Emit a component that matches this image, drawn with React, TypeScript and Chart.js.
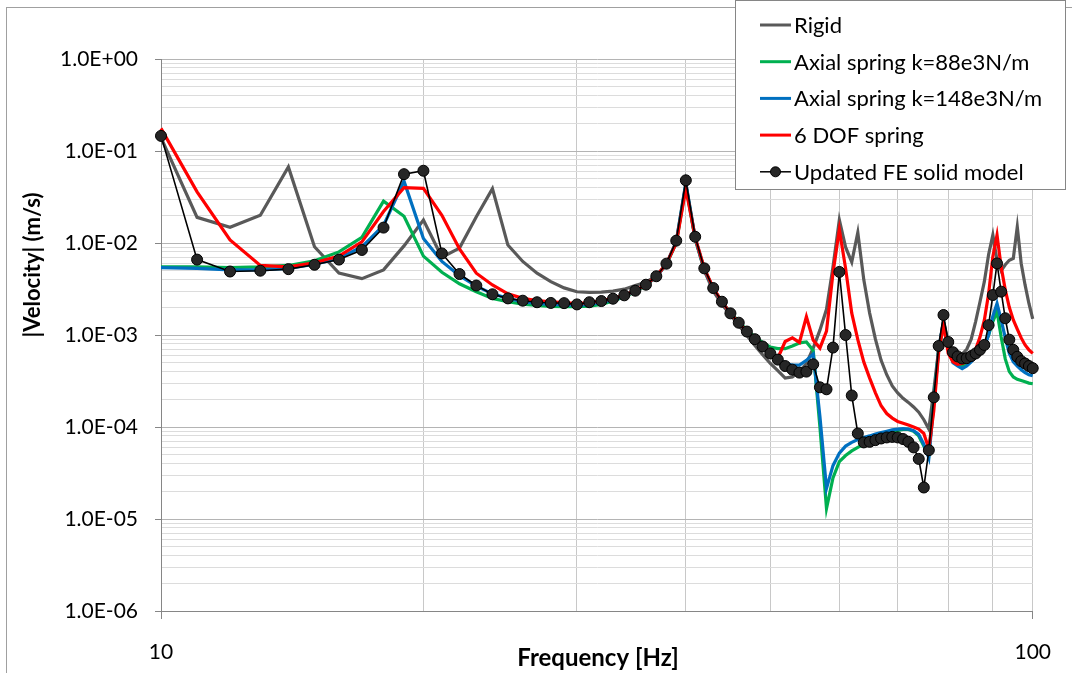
import React, { useEffect, useRef } from "react";
import { Chart, registerables } from "chart.js";

Chart.register(...registerables);

// Frequency axis [Hz]
const FREQ = [
  10, 11, 12, 13, 14, 15, 16, 17, 18, 19, 20, 21, 22, 23, 24, 25, 26, 27, 28, 29,
  30, 31, 32, 33, 34, 35, 36, 37, 38, 39, 40, 41, 42, 43, 44, 45, 46, 47, 48, 49,
  50, 51, 52, 53, 54, 55, 56, 57, 58, 59, 60, 61, 62, 63, 64, 65, 66, 67, 68, 69,
  70, 71, 72, 73, 74, 75, 76, 77, 78, 79, 80, 81, 82, 83, 84, 85, 86, 87, 88, 89,
  90, 91, 92, 93, 94, 95, 96, 97, 98, 99, 100,
];

const RIGID = [
  0.14, 1.9e-2, 1.48e-2, 2.0e-2, 6.7e-2, 9.1e-3, 4.7e-3, 4.1e-3, 5.1e-3, 9.3e-3,
  1.78e-2, 7.0e-3, 8.8e-3, 1.93e-2, 3.9e-2, 9.5e-3, 6.3e-3, 4.7e-3, 3.8e-3, 3.25e-3,
  2.95e-3, 2.9e-3, 2.92e-3, 3.0e-3, 3.15e-3, 3.45e-3, 3.75e-3, 4.4e-3, 5.9e-3, 1.03e-2,
  4.5e-2, 1.12e-2, 5.0e-3, 3.0e-3, 2.15e-3, 1.65e-3, 1.28e-3, 9.9e-4, 7.7e-4, 6.1e-4,
  4.9e-4, 4.1e-4, 3.4e-4, 3.5e-4, 4.0e-4, 4.9e-4, 7.2e-4, 1.13e-3, 1.9e-3, 5.5e-3,
  1.78e-2, 9.0e-3, 6.2e-3, 1.3e-2, 4.0e-3, 1.73e-3, 9.0e-4, 5.3e-4, 3.7e-4, 2.8e-4,
  2.35e-4, 2.05e-4, 1.85e-4, 1.65e-4, 1.45e-4, 1.2e-4, 9.5e-5, 2.5e-4, 7.0e-4, 1.4e-3,
  8.5e-4, 6.5e-4, 6.0e-4, 6.2e-4, 7.0e-4, 9.0e-4, 1.4e-3, 2.3e-3, 3.8e-3, 7.5e-3,
  1.22e-2, 6.5e-3, 5.0e-3, 5.8e-3, 6.5e-3, 6.8e-3, 1.5e-2, 6.0e-3, 3.5e-3, 2.2e-3,
  1.5e-3,
];

const AXIAL_88 = [
  5.5e-3, 5.5e-3, 5.4e-3, 5.5e-3, 5.7e-3, 6.4e-3, 8.0e-3, 1.15e-2, 2.85e-2, 1.95e-2,
  7.2e-3, 4.8e-3, 3.6e-3, 2.95e-3, 2.5e-3, 2.3e-3, 2.17e-3, 2.1e-3, 2.05e-3, 2.03e-3,
  2.03e-3, 2.06e-3, 2.15e-3, 2.35e-3, 2.6e-3, 2.95e-3, 3.45e-3, 4.3e-3, 5.9e-3, 1.0e-2,
  4.2e-2, 1.1e-2, 5.2e-3, 3.2e-3, 2.3e-3, 1.75e-3, 1.4e-3, 1.13e-3, 9.6e-4, 8.3e-4,
  7.4e-4, 7.1e-4, 7.1e-4, 7.6e-4, 8.2e-4, 8.4e-4, 6.8e-4, 1.0e-4, 1.3e-5, 2.8e-5,
  4.2e-5, 4.9e-5, 5.5e-5, 6.0e-5, 6.5e-5, 7.0e-5, 7.5e-5, 8.0e-5, 8.4e-5, 8.8e-5,
  9.2e-5, 9.4e-5, 9.4e-5, 9.0e-5, 8.0e-5, 6.2e-5, 5.0e-5, 1.9e-4, 7.0e-4, 1.3e-3,
  7.5e-4, 5.3e-4, 4.8e-4, 4.6e-4, 4.8e-4, 5.3e-4, 6.0e-4, 6.8e-4, 7.8e-4, 1.0e-3,
  1.4e-3, 1.8e-3, 9.5e-4, 5.5e-4, 4.0e-4, 3.5e-4, 3.3e-4, 3.2e-4, 3.1e-4, 3.0e-4,
  2.95e-4,
];

const AXIAL_148 = [
  5.4e-3, 5.3e-3, 5.1e-3, 5.1e-3, 5.3e-3, 5.9e-3, 6.8e-3, 9.1e-3, 1.55e-2, 4.7e-2,
  1.12e-2, 6.3e-3, 4.4e-3, 3.4e-3, 2.8e-3, 2.5e-3, 2.3e-3, 2.2e-3, 2.15e-3, 2.12e-3,
  2.1e-3, 2.15e-3, 2.25e-3, 2.42e-3, 2.65e-3, 3.0e-3, 3.5e-3, 4.3e-3, 5.9e-3, 1.03e-2,
  4.4e-2, 1.13e-2, 5.2e-3, 3.2e-3, 2.3e-3, 1.72e-3, 1.36e-3, 1.09e-3, 9.0e-4, 7.4e-4,
  6.2e-4, 5.5e-4, 4.9e-4, 4.7e-4, 4.7e-4, 5.3e-4, 6.2e-4, 1.3e-4, 2.15e-5, 3.8e-5,
  5.2e-5, 6.2e-5, 6.8e-5, 7.3e-5, 7.7e-5, 8.0e-5, 8.4e-5, 8.7e-5, 9.0e-5, 9.3e-5,
  9.5e-5, 9.6e-5, 9.5e-5, 9.1e-5, 8.3e-5, 6.5e-5, 4.6e-5, 1.8e-4, 7.0e-4, 1.4e-3,
  7.2e-4, 5.0e-4, 4.6e-4, 4.3e-4, 4.6e-4, 5.1e-4, 5.8e-4, 6.5e-4, 7.4e-4, 1.0e-3,
  1.6e-3, 2.2e-3, 1.46e-3, 9.3e-4, 6.3e-4, 5.1e-4, 4.6e-4, 4.2e-4, 3.9e-4, 3.7e-4,
  3.6e-4,
];

const DOF6 = [
  0.176, 3.6e-2, 1.08e-2, 5.7e-3, 5.5e-3, 6.1e-3, 7.2e-3, 1.03e-2, 2.2e-2, 4.0e-2,
  3.93e-2, 2.0e-2, 8.6e-3, 4.7e-3, 3.5e-3, 2.8e-3, 2.5e-3, 2.36e-3, 2.3e-3, 2.25e-3,
  2.2e-3, 2.25e-3, 2.35e-3, 2.5e-3, 2.7e-3, 3.03e-3, 3.52e-3, 4.35e-3, 5.96e-3, 1.0e-2,
  3.9e-2, 1.15e-2, 5.3e-3, 3.24e-3, 2.3e-3, 1.72e-3, 1.36e-3, 1.09e-3, 9.0e-4, 7.5e-4,
  6.3e-4, 5.6e-4, 8.5e-4, 9.3e-4, 8.3e-4, 1.58e-3, 8.8e-4, 7.2e-4, 1.1e-3, 4.7e-3,
  1.4e-2, 5.3e-3, 1.73e-3, 8.9e-4, 5.1e-4, 3.4e-4, 2.35e-4, 1.7e-4, 1.4e-4, 1.25e-4,
  1.15e-4, 1.1e-4, 1.05e-4, 1.0e-4, 9.5e-5, 8.5e-5, 5.8e-5, 1.5e-4, 6.5e-4, 1.3e-3,
  6.3e-4, 5.1e-4, 4.8e-4, 4.9e-4, 5.1e-4, 5.8e-4, 7.0e-4, 9.5e-4, 1.45e-3, 2.8e-3,
  7.1e-3, 1.22e-2, 5.5e-3, 3.1e-3, 2.0e-3, 1.46e-3, 1.16e-3, 9.3e-4, 7.8e-4, 6.9e-4,
  6.3e-4,
];

const FE_UPDATED = [
  0.146, 6.6e-3, 4.9e-3, 5.0e-3, 5.2e-3, 5.8e-3, 6.6e-3, 8.4e-3, 1.47e-2, 5.6e-2,
  6.1e-2, 7.7e-3, 4.6e-3, 3.45e-3, 2.77e-3, 2.5e-3, 2.36e-3, 2.27e-3, 2.23e-3, 2.22e-3,
  2.15e-3, 2.27e-3, 2.34e-3, 2.48e-3, 2.7e-3, 3.03e-3, 3.52e-3, 4.35e-3, 5.96e-3, 1.06e-2,
  4.8e-2, 1.17e-2, 5.3e-3, 3.24e-3, 2.3e-3, 1.72e-3, 1.36e-3, 1.09e-3, 9.0e-4, 7.5e-4,
  6.3e-4, 5.4e-4, 4.6e-4, 4.2e-4, 3.9e-4, 4.0e-4, 4.8e-4, 2.7e-4, 2.57e-4, 7.3e-4,
  4.85e-3, 1.0e-3, 2.2e-4, 8.5e-5, 6.8e-5, 6.9e-5, 7.2e-5, 7.5e-5, 7.7e-5, 7.8e-5,
  7.7e-5, 7.4e-5, 6.9e-5, 6.0e-5, 4.5e-5, 2.2e-5, 5.6e-5, 2.1e-4, 7.6e-4, 1.65e-3,
  8.4e-4, 6.5e-4, 5.85e-4, 5.55e-4, 5.6e-4, 5.9e-4, 6.3e-4, 6.9e-4, 7.8e-4, 1.28e-3,
  2.72e-3, 6.0e-3, 2.96e-3, 1.52e-3, 8.9e-4, 6.9e-4, 5.8e-4, 5.2e-4, 4.9e-4, 4.6e-4,
  4.36e-4,
];

const SERIES_NAMES = [
  "Rigid",
  "Axial spring k=88e3N/m",
  "Axial spring k=148e3N/m",
  "6 DOF spring",
  "Updated FE solid model",
];
const SERIES_COLORS = ["#595959", "#00B050", "#0070C0", "#FF0000", "#000000"];

// Tick definitions
const X_TICKS = [10, 20, 30, 40, 50, 60, 70, 80, 90, 100];
const X_LABELED = [10, 100];
const Y_DECADES = [1e-6, 1e-5, 1e-4, 1e-3, 1e-2, 1e-1, 1];
const Y_MINOR_MULT = [2, 3, 4, 5, 6, 7, 8, 9];

const FONT = "Lato, 'Liberation Sans', sans-serif";

function isDecade(v: number) {
  const l = Math.log10(v);
  return Math.abs(l - Math.round(l)) < 1e-9;
}
function fmtExp(v: number) {
  const e = Math.round(Math.log10(v));
  const sign = e < 0 ? "-" : "+";
  return `1.0E${sign}${String(Math.abs(e)).padStart(2, "0")}`;
}

const overlayPlugin = {
  id: "overlay",
  beforeDraw(chart: any) {
    const ctx = chart.ctx;
    ctx.save();
    ctx.fillStyle = "#ffffff";
    ctx.fillRect(0, 0, chart.width, chart.height);
    ctx.strokeStyle = "#a0a0a0";
    ctx.lineWidth = 1;
    ctx.strokeRect(6.5, 7.5, 1200, 800);
    ctx.restore();
  },
  afterDraw(chart: any) {
    const ctx = chart.ctx;
    ctx.save();
    // axis titles
    ctx.fillStyle = "#000";
    ctx.textAlign = "center";
    ctx.textBaseline = "middle";
    ctx.font = `bold 24px ${FONT}`;
    ctx.fillText("Frequency [Hz]", 598, 658);
    ctx.save();
    ctx.font = `bold 22px ${FONT}`;
    ctx.translate(33, 265);
    ctx.rotate(-Math.PI / 2);
    ctx.fillText("|Velocity| (m/s)", 0, 0);
    ctx.restore();

    // legend
    ctx.fillStyle = "#fff";
    ctx.fillRect(735, 0, 331, 189);
    ctx.strokeStyle = "#868686";
    ctx.lineWidth = 1;
    ctx.strokeRect(735.5, 0.5, 330, 189);
    ctx.font = `22px ${FONT}`;
    ctx.textAlign = "left";
    ctx.textBaseline = "middle";
    SERIES_NAMES.forEach((name, i) => {
      const y = 25 + i * 36.7;
      ctx.strokeStyle = SERIES_COLORS[i];
      ctx.lineWidth = i === 4 ? 1.5 : 3;
      ctx.beginPath();
      ctx.moveTo(760, y);
      ctx.lineTo(791, y);
      ctx.stroke();
      if (i === 4) {
        ctx.beginPath();
        ctx.arc(775.5, y, 5, 0, Math.PI * 2);
        ctx.fillStyle = "#262626";
        ctx.fill();
        ctx.lineWidth = 1;
        ctx.strokeStyle = "#000";
        ctx.stroke();
      }
      ctx.fillStyle = "#000";
      ctx.fillText(name, 794, y + 1);
    });
    ctx.restore();
  },
};

export default function App() {
  const canvasRef = useRef<HTMLCanvasElement | null>(null);

  useEffect(() => {
    if (!canvasRef.current) return;
    const seriesValues = [RIGID, AXIAL_88, AXIAL_148, DOF6, FE_UPDATED];
    const datasets = seriesValues.map((vals, i) => {
      const isFE = i === 4;
      return {
        label: SERIES_NAMES[i],
        data: FREQ.map((f, k) => ({ x: f, y: vals[k] })),
        borderColor: SERIES_COLORS[i],
        backgroundColor: SERIES_COLORS[i],
        borderWidth: isFE ? 1.6 : 3.2,
        pointRadius: isFE ? 5.5 : 0,
        pointBackgroundColor: "#262626",
        pointBorderColor: "#000",
        pointBorderWidth: 1,
        tension: 0,
        fill: false,
        order: 5 - i,
        clip: false as any,
      };
    });

    const yTickValues: number[] = [];
    Y_DECADES.forEach((d, i) => {
      yTickValues.push(d);
      if (i < Y_DECADES.length - 1) Y_MINOR_MULT.forEach((m) => yTickValues.push(m * d));
    });

    const chart = new Chart(canvasRef.current, {
      type: "line",
      data: { datasets: datasets as any },
      options: {
        animation: false,
        responsive: false,
        maintainAspectRatio: false,
        layout: { padding: { left: 0, top: 59, right: 37, bottom: 0 } },
        plugins: {
          legend: { display: false },
          tooltip: { enabled: false },
          title: { display: false },
        },
        scales: {
          x: {
            type: "logarithmic",
            min: 10,
            max: 100,
            afterBuildTicks: (axis: any) => {
              axis.ticks = X_TICKS.map((v) => ({ value: v, major: X_LABELED.includes(v) }));
            },
            afterFit: (axis: any) => {
              axis.height = 62;
            },
            border: { display: true, color: "#868686", width: 1 },
            grid: {
              display: true,
              drawOnChartArea: true,
              drawTicks: true,
              tickLength: 8,
              color: "#c8c8c8",
              lineWidth: 1,
              tickColor: (ctx: any) =>
                ctx.tick && X_LABELED.includes(ctx.tick.value) ? "#868686" : "rgba(0,0,0,0)",
            },
            ticks: {
              autoSkip: false,
              maxRotation: 0,
              minRotation: 0,
              padding: 21,
              color: "#000",
              font: { family: FONT, size: 21 },
              callback: (v: any) => (X_LABELED.includes(Number(v)) ? String(v) : ""),
            },
          },
          y: {
            type: "logarithmic",
            min: 1e-6,
            max: 1,
            afterBuildTicks: (axis: any) => {
              axis.ticks = yTickValues.map((v) => ({ value: v, major: isDecade(v) }));
            },
            afterFit: (axis: any) => {
              axis.width = 161;
            },
            border: { display: true, color: "#868686", width: 1 },
            grid: {
              display: true,
              drawOnChartArea: true,
              drawTicks: true,
              tickLength: 6,
              lineWidth: 1,
              color: (ctx: any) => (ctx.tick && isDecade(ctx.tick.value) ? "#b4b4b4" : "#dcdcdc"),
              tickColor: (ctx: any) =>
                ctx.tick && isDecade(ctx.tick.value) ? "#868686" : "rgba(0,0,0,0)",
            },
            ticks: {
              autoSkip: false,
              padding: 17,
              color: "#000",
              font: { family: FONT, size: 21 },
              callback: (v: any) => (isDecade(Number(v)) ? fmtExp(Number(v)) : ""),
            },
          },
        },
      },
      plugins: [overlayPlugin],
    });
    return () => chart.destroy();
  }, []);

  return (
    <div
      style={{
        position: "fixed",
        left: 0,
        top: 0,
        width: 1072,
        height: 673,
        background: "#fff",
        overflow: "hidden",
      }}
    >
      <canvas ref={canvasRef} width={1072} height={673} style={{ display: "block" }} />
    </div>
  );
}
